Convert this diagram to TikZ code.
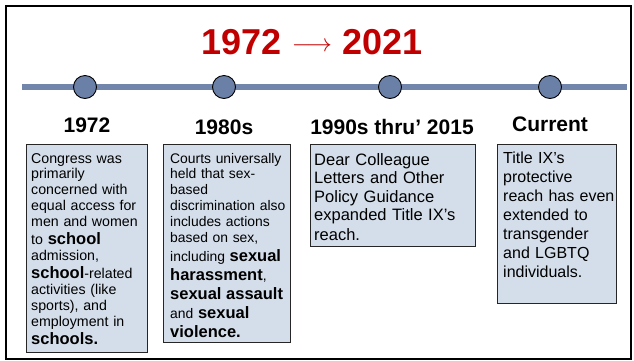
\documentclass[tikz,border=0pt]{standalone}
\usepackage{fontspec}
\setmainfont{Liberation Sans}
\definecolor{boxfill}{HTML}{D4DEEA}
\definecolor{linecol}{HTML}{7186AA}
\definecolor{dotfill}{HTML}{6A80A6}
\definecolor{titlered}{HTML}{C00000}
\newcommand{\bwa}[1]{{\fontsize{16.5}{15.8}\selectfont\bfseries #1}}
\begin{document}
\begin{tikzpicture}[x=1pt,y=-1pt,
  frame/.style={draw=black,line width=2pt},
  tline/.style={draw=linecol,line width=6pt},
  dot/.style={circle,draw=black,line width=0.9pt,fill=dotfill,minimum size=23pt,inner sep=0pt},
  era/.style={font=\fontsize{21}{21}\selectfont\bfseries,anchor=base,inner sep=0pt},
  panel/.style={draw=black!85,line width=0.9pt,fill=boxfill,anchor=north west,inner sep=0pt},
  ptext/.style={anchor=base west,inner sep=0pt,align=left,text width=150pt},
  small/.style={font=\fontsize{14.2}{15.8}\selectfont},
  smaller/.style={font=\fontsize{13.9}{15.8}\selectfont},
  large/.style={font=\fontsize{16.5}{18.5}\selectfont},
  title/.style={font=\fontsize{36}{36}\selectfont\bfseries,text=titlered,anchor=base,inner sep=0pt}
]
\useasboundingbox (0,0) rectangle (634,360);
\node[draw=none,inner sep=0pt,minimum width=625pt,minimum height=353pt,anchor=north west,frame] (frame) at (5,5) {};

\node[title] (title) at (312,54) {1972 {\fontsize{28}{28}\selectfont\raisebox{3pt}{$\longrightarrow$}} 2021};

\coordinate (tl) at (22,87);
\coordinate (tr) at (627,87);
\draw[tline] (tl) -- (tr);
\node[dot] (d1) at (85,87) {};
\node[dot] (d2) at (224,87) {};
\node[dot] (d3) at (390,87) {};
\node[dot] (d4) at (550,87) {};

\node[era] (e1) at (87,132) {1972};
\node[era] (e2) at (224,134) {1980s};
\node[era] (e3) at (392,134) {1990s thru’ 2015};
\node[era] (e4) at (550,131) {Current};

\node[panel,minimum width=121pt,minimum height=208pt] (b1) at (26,144) {};
\node[panel,minimum width=127pt,minimum height=198pt] (b2) at (163,144) {};
\node[panel,minimum width=165pt,minimum height=102pt] (b3) at (310,144) {};
\node[panel,minimum width=119pt,minimum height=159pt] (b4) at (497,144) {};

\node[ptext,small] (t1) at (31,163) {Congress was\\primarily\\concerned with\\equal access for\\men and women\\[2.5pt]to \bwa{school}\\admission,\\[2.5pt]\bwa{school}-related\\activities (like\\sports), and\\employment in\\[2.5pt]\bwa{schools.}};
\node[ptext,smaller] (t2) at (170,163) {Courts universally\\held that sex-\\based\\discrimination also\\includes actions\\based on sex,\\[3.2pt]including \bwa{sexual}\\[3.2pt]\bwa{harassment},\\[3.2pt]\bwa{sexual assault}\\[3.2pt]and \bwa{sexual}\\[3.2pt]\bwa{violence.}};
\node[ptext,large] (t3) at (314,165) {Dear Colleague\\Letters and Other\\Policy Guidance\\expanded Title IX’s\\[1.5pt]reach.};
\node[ptext,font=\fontsize{16}{19}\selectfont] (t4) at (503,163) {Title IX’s\\protective\\reach has even\\extended to\\transgender\\and LGBTQ\\individuals.};
\end{tikzpicture}
\end{document}
